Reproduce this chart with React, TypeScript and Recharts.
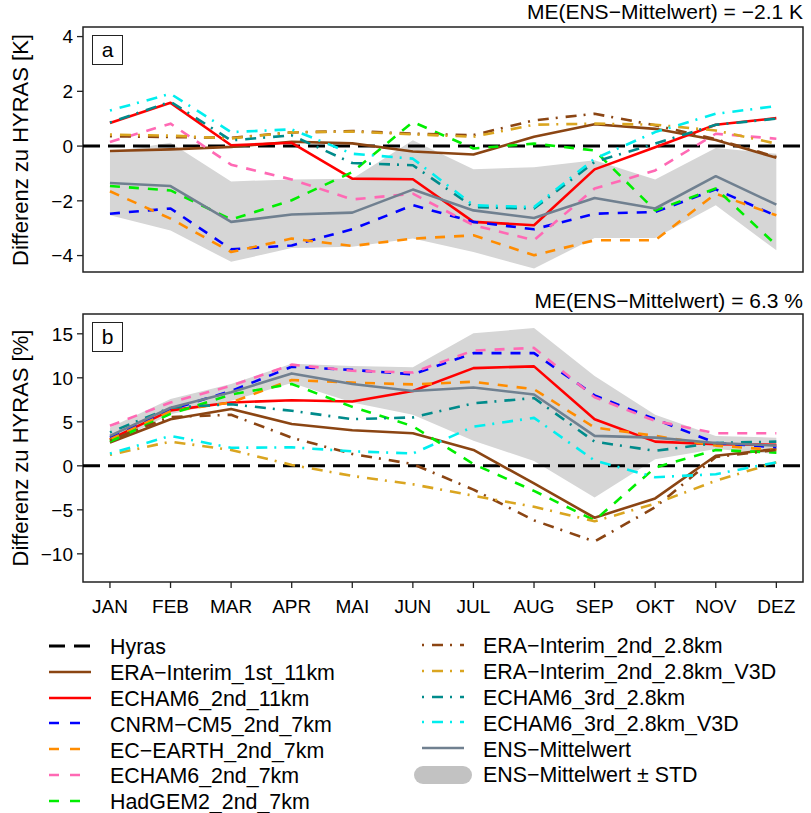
import React from "react";
import { Area, ComposedChart, Line, ReferenceArea, ReferenceLine, XAxis, YAxis } from "recharts";

const MONTHS = ["JAN", "FEB", "MAR", "APR", "MAI", "JUN", "JUL", "AUG", "SEP", "OKT", "NOV", "DEZ"];

// panel a: Temperatur-Differenz [K]
const tEra1st = [-0.18, -0.12, -0.03, 0.16, 0.1, -0.2, -0.31, 0.34, 0.8, 0.63, 0.22, -0.43];
const tEcham11 = [0.84, 1.58, 0.03, 0.12, -1.19, -1.21, -2.77, -2.89, -0.85, -0.04, 0.78, 1.02];
const tCnrm = [-2.47, -2.28, -3.77, -3.63, -3.04, -2.16, -2.77, -3.04, -2.47, -2.41, -1.58, -2.55];
const tEcEarth = [-1.65, -2.65, -3.87, -3.38, -3.65, -3.38, -3.26, -3.99, -3.44, -3.44, -1.74, -2.53];
const tEcham7 = [0.15, 0.82, -0.68, -1.22, -1.95, -1.74, -2.89, -3.44, -1.55, -0.89, 0.45, 0.27];
const tHadgem = [-1.46, -1.62, -2.68, -1.98, -0.95, 0.88, -0.09, 0.09, -0.16, -2.35, -1.55, -3.62];
const tEra28 = [0.36, 0.33, 0.3, 0.5, 0.55, 0.45, 0.4, 0.94, 1.18, 0.76, 0.25, -0.4];
const tEra28v = [0.42, 0.38, 0.28, 0.5, 0.53, 0.43, 0.34, 0.78, 0.82, 0.78, 0.57, 0.09];
const tEcham28 = [0.86, 1.62, 0.21, 0.39, -0.62, -0.7, -2.23, -2.28, -0.58, 0.09, 0.78, 1.0];
const tEcham28v = [1.3, 1.91, 0.51, 0.61, -0.28, -0.46, -2.16, -2.23, -0.46, 0.51, 1.18, 1.46];
const tEns = [-1.35, -1.46, -2.77, -2.5, -2.43, -1.59, -2.35, -2.63, -1.9, -2.28, -1.1, -2.14];
const tEnsLow = [-2.53, -3.08, -4.23, -3.72, -3.68, -3.38, -3.87, -4.47, -3.36, -3.36, -2.16, -3.81];
const tEnsHigh = [-0.22, 0.12, -1.29, -1.22, -1.19, 0.21, -0.85, -0.77, -0.52, -1.22, -0.07, -0.28];

// panel b: Niederschlag-Differenz [%]
const pEra1st = [2.65, 5.3, 6.45, 4.75, 4.05, 3.7, 1.8, -2.0, -5.9, -3.7, 1.15, 1.9];
const pEcham11 = [3.0, 6.3, 7.2, 7.45, 7.3, 8.5, 11.1, 11.3, 5.3, 2.75, 2.45, 2.4];
const pCnrm = [3.2, 6.4, 8.5, 11.25, 10.9, 10.4, 12.8, 12.8, 8.0, 5.3, 2.6, 2.1];
const pEcEarth = [3.0, 6.2, 7.2, 9.75, 9.45, 9.25, 9.55, 8.7, 4.35, 3.4, 2.3, 1.8];
const pEcham7 = [4.55, 7.2, 9.1, 11.5, 10.8, 10.6, 13.1, 13.4, 7.8, 5.1, 3.7, 3.7];
const pHadgem = [2.75, 5.9, 8.1, 9.3, 6.7, 4.5, 0.2, -2.85, -6.2, -0.2, 1.8, 1.5];
const pEra28 = [2.9, 5.55, 5.8, 3.2, 1.35, 0.2, -2.7, -6.2, -8.6, -4.7, 1.0, 1.8];
const pEra28v = [1.25, 2.75, 1.8, 0.1, -1.15, -2.1, -3.4, -4.65, -6.3, -4.3, -1.7, 0.4];
const pEcham28 = [3.8, 6.6, 7.0, 6.25, 5.3, 5.5, 7.1, 7.7, 2.75, 1.7, 2.6, 2.75];
const pEcham28v = [1.4, 3.4, 2.05, 2.1, 1.65, 1.4, 4.45, 5.45, 0.6, -1.3, -0.95, 0.4];
const pEns = [3.4, 6.6, 8.35, 10.5, 9.3, 8.5, 8.9, 8.1, 3.4, 3.2, 2.6, 2.3];
const pEnsLow = [2.5, 5.85, 7.4, 9.4, 7.2, 5.8, 2.85, 0.55, -3.6, 0.75, 1.9, 1.35];
const pEnsHigh = [4.35, 7.6, 9.3, 11.6, 11.35, 11.2, 15.05, 15.65, 10.2, 5.8, 3.4, 3.2];

const TICKS_A = [-4, -2, 0, 2, 4];
const TICKS_B = [-10, -5, 0, 5, 10, 15];

const X_DOMAIN: [number, number] = [0.555, 12.44];
const A_DOMAIN: [number, number] = [-4.6, 4.35];
const B_DOMAIN: [number, number] = [-13.2, 17.25];

const FONT = "'Liberation Sans', Arial, Helvetica, sans-serif";
const DASH = "10 9";
const DOTDASH = "2 8 11 7";
const BAND = "#d6d6d6";

type Series = { key: string; name: string; color: string; dash?: string; legendDash?: string; width: number };

const SERIES: Series[] = [
  { key: "era1st", name: "ERA\u2212Interim_1st_11km", color: "#8b4513", width: 2.6 },
  { key: "echam11", name: "ECHAM6_2nd_11km", color: "#ff0000", width: 2.6 },
  { key: "cnrm", name: "CNRM\u2212CM5_2nd_7km", color: "#0000ff", dash: DASH, legendDash: "10 11", width: 2.6 },
  { key: "ecearth", name: "EC\u2212EARTH_2nd_7km", color: "#ff8c00", dash: DASH, legendDash: "10 11", width: 2.6 },
  { key: "echam7", name: "ECHAM6_2nd_7km", color: "#ff69b4", dash: DASH, legendDash: "10 11", width: 2.6 },
  { key: "hadgem", name: "HadGEM2_2nd_7km", color: "#00ee00", dash: DASH, legendDash: "10 11", width: 2.6 },
  { key: "era28", name: "ERA\u2212Interim_2nd_2.8km", color: "#8b4513", dash: DOTDASH, width: 2.6 },
  { key: "era28v", name: "ERA\u2212Interim_2nd_2.8km_V3D", color: "#daa520", dash: DOTDASH, width: 2.6 },
  { key: "echam28", name: "ECHAM6_3rd_2.8km", color: "#008b8b", dash: DOTDASH, width: 2.6 },
  { key: "echam28v", name: "ECHAM6_3rd_2.8km_V3D", color: "#00eeee", dash: DOTDASH, width: 2.6 },
  { key: "ens", name: "ENS\u2212Mittelwert", color: "#708090", width: 2.6 },
];

function buildRows(cols: Record<string, number[]>, low: number[], high: number[]) {
  return MONTHS.map((_, i) => {
    const row: Record<string, any> = { m: i + 1, band: [low[i], high[i]] };
    Object.keys(cols).forEach((k) => (row[k] = cols[k][i]));
    return row;
  });
}

const rowsA = buildRows(
  {
    era1st: tEra1st, echam11: tEcham11, cnrm: tCnrm, ecearth: tEcEarth, echam7: tEcham7, hadgem: tHadgem,
    era28: tEra28, era28v: tEra28v, echam28: tEcham28, echam28v: tEcham28v, ens: tEns,
  },
  tEnsLow,
  tEnsHigh
);

const rowsB = buildRows(
  {
    era1st: pEra1st, echam11: pEcham11, cnrm: pCnrm, ecearth: pEcEarth, echam7: pEcham7, hadgem: pHadgem,
    era28: pEra28, era28v: pEra28v, echam28: pEcham28, echam28v: pEcham28v, ens: pEns,
  },
  pEnsLow,
  pEnsHigh
);

const minus = (v: number) => String(v).replace("-", "\u2212");
const tickStyle = { fontSize: 19, fill: "#000", fontFamily: FONT };

function Panel({ data, yDomain, yTicks, showX }: { data: any[]; yDomain: [number, number]; yTicks: number[]; showX: boolean }) {
  return (
    <ComposedChart
      width={811}
      height={showX ? 360 : 280}
      data={data}
      margin={showX ? { top: 34, right: 8, bottom: 18, left: 23 } : { top: 27, right: 8, bottom: 8, left: 23 }}
    >
      <XAxis
        type="number"
        dataKey="m"
        domain={X_DOMAIN}
        allowDataOverflow
        ticks={[1, 2, 3, 4, 5, 6, 7, 8, 9, 10, 11, 12]}
        interval={0}
        tickFormatter={(v) => MONTHS[v - 1]}
        hide={!showX}
        height={40}
        axisLine={false}
        tickSize={6}
        tickMargin={12}
        tickLine={{ stroke: "#222", strokeWidth: 1.3 }}
        tick={tickStyle}
      />
      <YAxis
        type="number"
        domain={yDomain}
        allowDataOverflow
        ticks={yTicks}
        interval={0}
        width={60}
        axisLine={false}
        tickSize={6}
        tickMargin={4}
        tickLine={{ stroke: "#222", strokeWidth: 1.3 }}
        tick={tickStyle}
        tickFormatter={minus}
      />
      <Area dataKey="band" fill={BAND} fillOpacity={1} stroke="none" isAnimationActive={false} activeDot={false} />
      <ReferenceLine y={0} stroke="#000" strokeWidth={3} strokeDasharray="17 8" />
      {SERIES.map((s) => (
        <Line
          key={s.key}
          dataKey={s.key}
          stroke={s.color}
          strokeWidth={s.width}
          strokeDasharray={s.dash}
          strokeLinejoin="round"
          dot={false}
          activeDot={false}
          isAnimationActive={false}
        />
      ))}
      <ReferenceArea
        x1={X_DOMAIN[0]}
        x2={X_DOMAIN[1]}
        y1={yDomain[0]}
        y2={yDomain[1]}
        fill="none"
        stroke="#222"
        strokeWidth={1.5}
        ifOverflow="visible"
      />
    </ComposedChart>
  );
}

function Swatch({ s }: { s: { color: string; dash?: string; legendDash?: string; width: number } }) {
  return (
    <svg width={42} height={12} style={{ display: "block" }}>
      <line x1={0} x2={42} y1={6} y2={6} stroke={s.color} strokeWidth={s.width} strokeDasharray={s.legendDash ?? s.dash} />
    </svg>
  );
}

const HYRAS = { color: "#000", dash: "16 9", width: 3 };

export default function App() {
  const leftItems = [{ name: "Hyras", sw: HYRAS }, ...SERIES.slice(0, 6).map((s) => ({ name: s.name, sw: s }))];
  const rightItems = SERIES.slice(6).map((s) => ({ name: s.name, sw: s }));

  const text = { fontSize: 21, fontFamily: FONT, color: "#000", whiteSpace: "nowrap" as const };
  const legendText = { ...text, fontSize: 21.4 };

  return (
    <div style={{ position: "absolute", left: 0, top: 0, width: 811, height: 813, background: "#fff", fontFamily: FONT }}>
      <div style={{ position: "absolute", left: 0, top: 0 }}>
        <Panel data={rowsA} yDomain={A_DOMAIN} yTicks={TICKS_A} showX={false} />
      </div>
      <div style={{ position: "absolute", left: 0, top: 280 }}>
        <Panel data={rowsB} yDomain={B_DOMAIN} yTicks={TICKS_B} showX />
      </div>

      <div style={{ ...text, position: "absolute", right: 8, top: 1, lineHeight: "21px" }}>
        ME(ENS{"\u2212"}Mittelwert) = {"\u2212"}2.1 K
      </div>
      <div style={{ ...text, position: "absolute", right: 8, top: 290, lineHeight: "21px" }}>
        ME(ENS{"\u2212"}Mittelwert) = 6.3 %
      </div>

      {[
        { label: "a", top: 35 },
        { label: "b", top: 322 },
      ].map((b) => (
        <div
          key={b.label}
          style={{
            ...text,
            position: "absolute",
            left: 92,
            top: b.top,
            width: 31,
            height: 30,
            boxSizing: "border-box",
            border: "1.3px solid #222",
            textAlign: "center",
            lineHeight: "27px",
          }}
        >
          {b.label}
        </div>
      ))}

      {[
        { label: "Differenz zu HYRAS [K]", cy: 150 },
        { label: "Differenz zu HYRAS [%]", cy: 448 },
      ].map((t) => (
        <div
          key={t.label}
          style={{
            ...text,
            fontSize: 22,
            position: "absolute",
            left: 20.5 - 150,
            top: t.cy - 13,
            width: 300,
            height: 26,
            lineHeight: "26px",
            textAlign: "center",
            transform: "rotate(-90deg)",
          }}
        >
          {t.label}
        </div>
      ))}

      {leftItems.map((it, i) => {
        const cy = 647 + i * 25.8;
        return (
          <React.Fragment key={it.name}>
            <div style={{ position: "absolute", left: 49, top: cy - 7 }}>
              <Swatch s={it.sw} />
            </div>
            <div style={{ ...legendText, position: "absolute", left: 110, top: cy - 12.7, lineHeight: "26px" }}>{it.name}</div>
          </React.Fragment>
        );
      })}
      {rightItems.map((it, i) => {
        const cy = 646 + i * 25.8;
        return (
          <React.Fragment key={it.name}>
            <div style={{ position: "absolute", left: 422, top: cy - 7 }}>
              <Swatch s={it.sw} />
            </div>
            <div style={{ ...legendText, position: "absolute", left: 483, top: cy - 12.7, lineHeight: "26px" }}>{it.name}</div>
          </React.Fragment>
        );
      })}
      <div
        style={{
          position: "absolute",
          left: 414,
          top: 646 + 5 * 25.8 - 9,
          width: 58,
          height: 18,
          borderRadius: 9,
          background: "#c2c2c2",
        }}
      />
      <div style={{ ...legendText, position: "absolute", left: 483, top: 646 + 5 * 25.8 - 12.7, lineHeight: "26px" }}>
        ENS{"\u2212"}Mittelwert ± STD
      </div>
    </div>
  );
}
